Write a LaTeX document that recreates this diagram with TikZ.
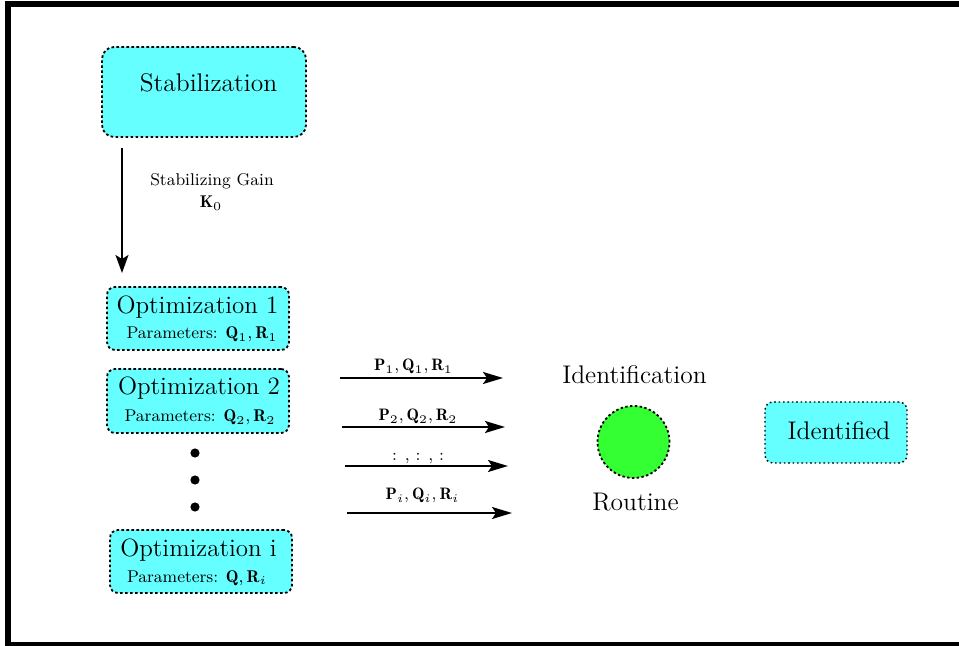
\documentclass[tikz,border=0pt]{standalone}
\usepackage{fix-cm}
\usepackage{fontspec}
\usetikzlibrary{arrows.meta}
\definecolor{boxcyan}{RGB}{102,255,255}
\definecolor{routinegreen}{RGB}{51,255,51}
\newcommand{\fsize}[1]{\fontsize{#1}{#1}\selectfont}
\begin{document}
\begin{tikzpicture}[x=0.5pt,y=-0.5pt,
  cbox/.style={draw=black, fill=boxcyan, line width=0.9pt,
    dash pattern=on 1.3pt off 1.2pt, inner sep=0pt, rounded corners=4pt},
  rbox/.style={cbox, line width=0.7pt, dash pattern=on 0.8pt off 1.4pt},
  bigtext/.style={inner sep=0pt, anchor=base, font=\fsize{12.75}},
  midtext/.style={inner sep=0pt, anchor=base, font=\fsize{12.5}},
  smalltext/.style={inner sep=0pt, anchor=base, font=\fsize{8.5}},
  arrlabel/.style={inner sep=0pt, anchor=base, font=\fsize{8.3}},
  vdot/.style={circle, fill=black, inner sep=0pt, minimum size=4.6pt},
  flow/.style={line width=1pt, -{Stealth[length=10pt,width=6pt,inset=2pt]}},
]
\useasboundingbox (0,0) rectangle (959,646);
\clip (0,0) rectangle (959,646);

% outer frame
\draw[line width=2.8pt] (8,4.2) rectangle (1100,644.8);

% stabilization stage
\node[cbox, rounded corners=6pt, minimum width=102pt, minimum height=45pt] (stab) at (204,92) {};
\node[bigtext] (stabtxt) at (208.5,92) {Stabilization};

\coordinate (gainTop) at (122,148);
\coordinate (gainEnd) at (122,273);
\draw[line width=0.8pt, -{Stealth[length=9pt,width=6.5pt,inset=2pt]}] (gainTop) -- (gainEnd);
\node[smalltext] (gain) at (212,186) {Stabilizing Gain};
\node[smalltext] (k0) at (211,208) {$\mathbf{K}_0$};

% optimization stages
\node[cbox, minimum width=91pt, minimum height=31.5pt] (opt1) at (198,318.5) {};
\node[midtext] (opt1a) at (197.5,314) {Optimization 1};
\node[smalltext] (opt1b) at (202,339) {Parameters: $\mathbf{Q}_1,\mathbf{R}_1$};

\node[cbox, minimum width=91pt, minimum height=32pt] (opt2) at (198,401) {};
\node[midtext] (opt2a) at (199,395) {Optimization 2};
\node[smalltext] (opt2b) at (200,422) {Parameters: $\mathbf{Q}_2,\mathbf{R}_2$};

\node[vdot] (d1) at (195,453) {};
\node[vdot] (d2) at (195,480) {};
\node[vdot] (d3) at (195,507) {};

\node[cbox, minimum width=91pt, minimum height=31.5pt] (opti) at (201,561.5) {};
\node[midtext] (optia) at (198.5,557) {Optimization i};
\node[smalltext] (optib) at (197,582) {Parameters: $\mathbf{Q},\mathbf{R}_i$};

% data passed to the identification routine
\coordinate (a1s) at (340,378); \coordinate (a1e) at (503,378);
\coordinate (a2s) at (342,427); \coordinate (a2e) at (505,427);
\coordinate (a3s) at (345,466); \coordinate (a3e) at (508,466);
\coordinate (a4s) at (347,513); \coordinate (a4e) at (512,513);
\draw[flow] (a1s) -- (a1e);
\draw[flow] (a2s) -- (a2e);
\draw[flow] (a3s) -- (a3e);
\draw[flow] (a4s) -- (a4e);
\node[arrlabel] (l1) at (413.5,371) {$\mathbf{P}_1,\mathbf{Q}_1,\mathbf{R}_1$};
\node[arrlabel] (l2) at (418,421) {$\mathbf{P}_2,\mathbf{Q}_2,\mathbf{R}_2$};
\node[arrlabel] (l3) at (418,461) {: , : , :};
\node[arrlabel] (l4) at (422.5,500) {$\mathbf{P}_i,\mathbf{Q}_i,\mathbf{R}_i$};

% identification routine
\node[bigtext] (idtxt) at (634.5,384) {Identification};
\node[circle, draw=black, fill=routinegreen, line width=0.9pt, dash pattern=on 1.2pt off 1.2pt,
  inner sep=0pt, minimum size=36pt] (routine) at (633.5,442) {};
\node[bigtext] (rttxt) at (635.5,511) {Routine};

% result
\node[rbox, minimum width=71pt, minimum height=30.5pt] (ident) at (836,432.5) {};
\node[bigtext] (identtxt) at (839,440) {Identified};
\end{tikzpicture}
\end{document}
